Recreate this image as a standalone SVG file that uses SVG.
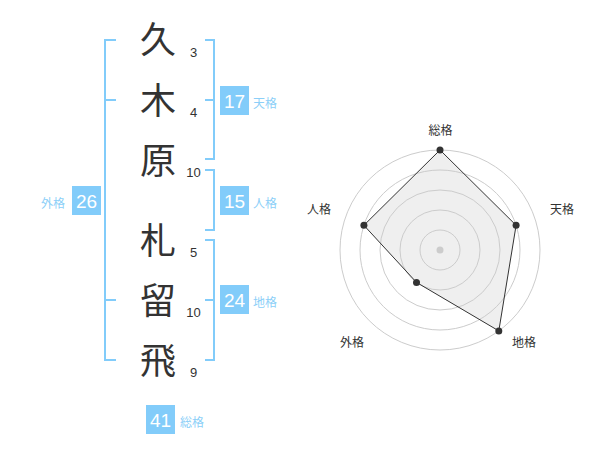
<svg xmlns="http://www.w3.org/2000/svg" width="600" height="470" viewBox="0 0 600 470">
<style>
.kanji{font-family:"Noto Sans CJK JP","Noto Sans CJK SC",sans-serif;font-size:36px;fill:#333;text-anchor:middle}
.num{font-family:"Liberation Sans",Arial,sans-serif;font-size:13px;fill:#333;text-anchor:middle}
.box{fill:#82ccfa}
.boxnum{font-family:"Liberation Sans",Arial,sans-serif;font-size:19px;fill:#fff;text-anchor:middle}
.lbl{font-family:"Liberation Sans","Noto Sans CJK JP",sans-serif;font-size:12px;fill:#8ccff8}
.br{fill:none;stroke:#82ccfa;stroke-width:2}
.ring{fill:none;stroke:#cccccc;stroke-width:1}
.rl{font-family:"Liberation Sans","Noto Sans CJK JP",sans-serif;font-size:12px;fill:#333;text-anchor:middle}
.pt{fill:#333}
</style>
<rect width="600" height="470" fill="#fff"/>
<g id="connectors">
  <path class="br" d="M116,40 H105 V360 H116 M105,100 H116 M105,300 H116"/>
  <path class="br" d="M205,40 H214 V159 H205 M205,100 H214"/>
  <path class="br" d="M205,170 H214 V230 H205"/>
  <path class="br" d="M205,240 H214 V360 H205 M205,300 H214"/>
</g>
<g id="chars">
  <g id="c1"><text class="kanji" x="158" y="53">久</text><text class="num" x="193.5" y="57">3</text></g>
  <g id="c2"><text class="kanji" x="158" y="114">木</text><text class="num" x="193.5" y="117">4</text></g>
  <g id="c3"><text class="kanji" x="158" y="174">原</text><text class="num" x="193.5" y="177">10</text></g>
  <g id="c4"><text class="kanji" x="158" y="254">札</text><text class="num" x="193.5" y="257">5</text></g>
  <g id="c5"><text class="kanji" x="158" y="314">留</text><text class="num" x="193.5" y="317">10</text></g>
  <g id="c6"><text class="kanji" x="158" y="374">飛</text><text class="num" x="193.5" y="377">9</text></g>
</g>
<g id="tenkaku"><rect class="box" x="220" y="86" width="29" height="29"/><text class="boxnum" x="234.5" y="107.5">17</text><text class="lbl" x="253" y="108">天格</text></g>
<g id="jinkaku"><rect class="box" x="220" y="186" width="29" height="29"/><text class="boxnum" x="234.5" y="207.5">15</text><text class="lbl" x="253" y="208">人格</text></g>
<g id="chikaku"><rect class="box" x="220" y="285" width="29" height="29"/><text class="boxnum" x="234.5" y="306.5">24</text><text class="lbl" x="253" y="307">地格</text></g>
<g id="gaikaku"><rect class="box" x="72" y="186" width="29" height="29"/><text class="boxnum" x="86.5" y="207.5">26</text><text class="lbl" x="41" y="208">外格</text></g>
<g id="soukaku"><rect class="box" x="146" y="405" width="29" height="29"/><text class="boxnum" x="160.5" y="426.5">41</text><text class="lbl" x="180" y="427">総格</text></g>
<g id="radar">
  <polygon points="440,150 516.1,225.3 498.8,330.9 416.5,282.4 363.9,225.3" fill="#efefef" stroke="none"/>
  <circle class="ring" cx="440" cy="250" r="20"/>
  <circle class="ring" cx="440" cy="250" r="40"/>
  <circle class="ring" cx="440" cy="250" r="60"/>
  <circle class="ring" cx="440" cy="250" r="80"/>
  <circle class="ring" cx="440" cy="250" r="100"/>
  <polygon points="440,150 516.1,225.3 498.8,330.9 416.5,282.4 363.9,225.3" fill="none" stroke="#333" stroke-width="1"/>
  <circle cx="440" cy="250" r="3.5" fill="#cccccc"/>
  <circle class="pt" cx="440" cy="150" r="3.5"/>
  <circle class="pt" cx="516.1" cy="225.3" r="3.5"/>
  <circle class="pt" cx="498.8" cy="330.9" r="3.5"/>
  <circle class="pt" cx="416.5" cy="282.4" r="3.5"/>
  <circle class="pt" cx="363.9" cy="225.3" r="3.5"/>
  <text class="rl" x="440.5" y="134.5">総格</text>
  <text class="rl" x="562" y="213.5">天格</text>
  <text class="rl" x="524" y="346.5">地格</text>
  <text class="rl" x="352" y="346.5">外格</text>
  <text class="rl" x="319" y="213.5">人格</text>
</g>
</svg>
